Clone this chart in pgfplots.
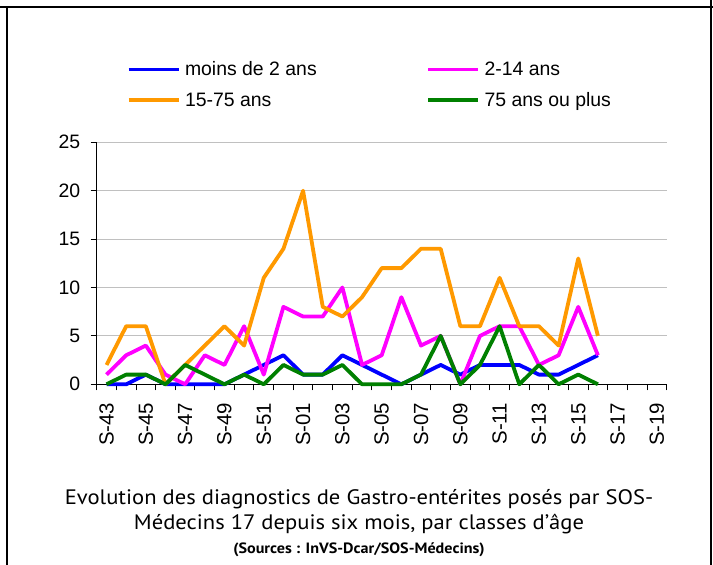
\documentclass[border=0pt]{standalone}
\usepackage{pgfplots}
\pgfplotsset{compat=1.18}
\usepackage{fontspec}
\setmainfont{Liberation Sans}
\newfontfamily\capfont{PT Sans}[FakeStretch=1.08]
\definecolor{sblue}{RGB}{0,0,255}
\definecolor{smag}{RGB}{255,0,255}
\definecolor{sorange}{RGB}{255,153,0}
\definecolor{sgreen}{RGB}{0,128,0}
\definecolor{gridgray}{RGB}{192,192,192}
\begin{document}
\begin{tikzpicture}[x=1bp,y=1bp]
\path[use as bounding box] (0,0) rectangle (713,565);
\draw[line width=2.2bp] (0,557.7) -- (713,557.7);
\draw[line width=2.2bp] (7.3,557.7) -- (7.3,0);
\draw[line width=2.2bp] (710.7,565) -- (710.7,0);
\begin{axis}[
  at={(96.7bp,180.7bp)}, anchor=south west,
  scale only axis, width=570bp, height=242bp,
  xmin=-0.5, xmax=28.5, ymin=0, ymax=25,
  clip=false,
  axis x line*=bottom, axis y line*=left,
  axis line style={-, black, line width=1.1bp},
  xtick={0,2,...,28},
  xticklabels={S-43,S-45,S-47,S-49,S-51,S-01,S-03,S-05,S-07,S-09,S-11,S-13,S-15,S-17,S-19},
  major x tick style={draw=none},
  minor xtick={-0.5,0.5,...,28.5},
  ytick={0,5,...,25},
  ymajorgrids, grid style={gridgray, line width=1bp},
  tick align=outside, major tick length=6bp, minor tick length=6bp,
  tick style={black, line width=1bp},
  every tick label/.append style={font=\fontsize{19.5}{21}\selectfont},
  xticklabel style={rotate=90, anchor=east, font=\fontsize{20.5}{22}\selectfont},
  xticklabel shift=9bp,
  yticklabel style={xshift=-7bp},
  /pgf/number format/assume math mode=true,
  legend columns=2,
  legend style={at={(0.05263,1.3327)}, anchor=north west, draw=none, fill=none,
    inner sep=0pt, outer sep=0pt, row sep=15bp,
    font=\fontsize{19.5}{21}\selectfont,
    nodes={inner sep=0pt},
    /tikz/every odd column/.append style={column sep=4.5bp},
    /tikz/every even column/.append style={column sep=109.5bp}},
  legend cell align=left,
  legend image code/.code={\draw[#1, line width=3.8bp] (0bp,0bp) -- (50bp,0bp);},
  every axis plot/.append style={line width=3.8bp, line join=round},
]
\addplot[sblue] coordinates {(0,0)(1,0)(2,1)(3,0)(4,0)(5,0)(6,0)(7,1)(8,2)(9,3)(10,1)(11,1)(12,3)(13,2)(14,1)(15,0)(16,1)(17,2)(18,1)(19,2)(20,2)(21,2)(22,1)(23,1)(24,2)(25,3)};
\addlegendentry{moins de 2 ans}
\addplot[smag] coordinates {(0,1)(1,3)(2,4)(3,1)(4,0)(5,3)(6,2)(7,6)(8,1)(9,8)(10,7)(11,7)(12,10)(13,2)(14,3)(15,9)(16,4)(17,5)(18,0)(19,5)(20,6)(21,6)(22,2)(23,3)(24,8)(25,3)};
\addlegendentry{2-14 ans}
\addplot[sorange] coordinates {(0,2)(1,6)(2,6)(3,0)(4,2)(5,4)(6,6)(7,4)(8,11)(9,14)(10,20)(11,8)(12,7)(13,9)(14,12)(15,12)(16,14)(17,14)(18,6)(19,6)(20,11)(21,6)(22,6)(23,4)(24,13)(25,5)};
\addlegendentry{15-75 ans}
\addplot[sgreen] coordinates {(0,0)(1,1)(2,1)(3,0)(4,2)(5,1)(6,0)(7,1)(8,0)(9,2)(10,1)(11,1)(12,2)(13,0)(14,0)(15,0)(16,1)(17,5)(18,0)(19,2)(20,6)(21,0)(22,2)(23,0)(24,1)(25,0)};
\addlegendentry{75 ans ou plus}
\end{axis}
\node[anchor=base, font=\capfont\fontsize{21}{25}\selectfont] at (359,60) {Evolution des diagnostics de Gastro-entérites posés par SOS-};
\node[anchor=base, font=\capfont\fontsize{21}{25}\selectfont] at (359,35) {Médecins 17 depuis six mois, par classes d’âge};
\node[anchor=base, font=\capfont\bfseries\fontsize{15}{18}\selectfont] at (359,11.5) {(Sources : InVS-Dcar/SOS-Médecins)};
\end{tikzpicture}
\end{document}
